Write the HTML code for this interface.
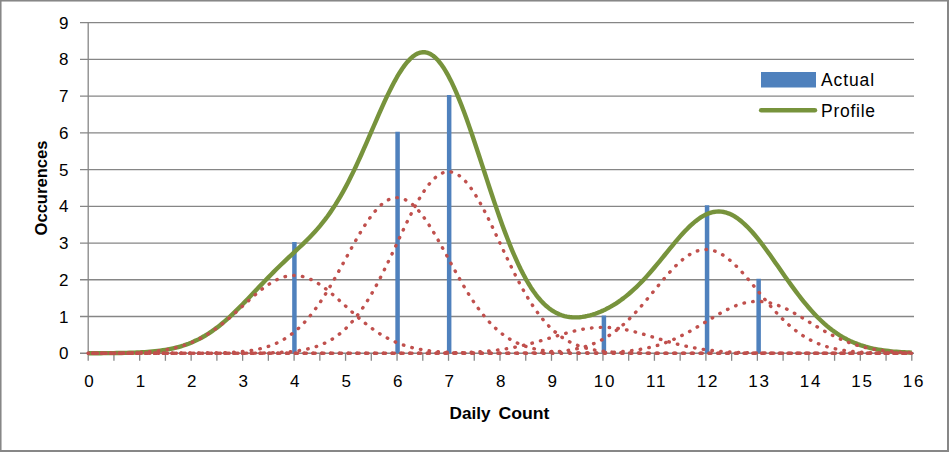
<!DOCTYPE html><html><head><meta charset="utf-8"><style>html,body{margin:0;padding:0;background:#fff}svg{display:block}text{font-family:"Liberation Sans",sans-serif}</style></head><body>
<svg width="949" height="452" viewBox="0 0 949 452">
<rect x="0" y="0" width="949" height="452" fill="#fff"/>
<line x1="80" y1="353.25" x2="914" y2="353.25" stroke="#868686" stroke-width="1.3"/>
<line x1="80" y1="316.51" x2="914" y2="316.51" stroke="#868686" stroke-width="1.3"/>
<line x1="80" y1="279.77" x2="914" y2="279.77" stroke="#868686" stroke-width="1.3"/>
<line x1="80" y1="243.04" x2="914" y2="243.04" stroke="#868686" stroke-width="1.3"/>
<line x1="80" y1="206.30" x2="914" y2="206.30" stroke="#868686" stroke-width="1.3"/>
<line x1="80" y1="169.56" x2="914" y2="169.56" stroke="#868686" stroke-width="1.3"/>
<line x1="80" y1="132.83" x2="914" y2="132.83" stroke="#868686" stroke-width="1.3"/>
<line x1="80" y1="96.09" x2="914" y2="96.09" stroke="#868686" stroke-width="1.3"/>
<line x1="80" y1="59.35" x2="914" y2="59.35" stroke="#868686" stroke-width="1.3"/>
<line x1="80" y1="22.61" x2="914" y2="22.61" stroke="#868686" stroke-width="1.3"/>
<line x1="88.20" y1="22.61" x2="88.20" y2="353.25" stroke="#868686" stroke-width="1.3"/>
<line x1="88.20" y1="353.25" x2="88.20" y2="360.8" stroke="#868686" stroke-width="1.3"/>
<line x1="113.94" y1="353.25" x2="113.94" y2="360.8" stroke="#868686" stroke-width="1.3"/>
<line x1="139.68" y1="353.25" x2="139.68" y2="360.8" stroke="#868686" stroke-width="1.3"/>
<line x1="165.41" y1="353.25" x2="165.41" y2="360.8" stroke="#868686" stroke-width="1.3"/>
<line x1="191.15" y1="353.25" x2="191.15" y2="360.8" stroke="#868686" stroke-width="1.3"/>
<line x1="216.89" y1="353.25" x2="216.89" y2="360.8" stroke="#868686" stroke-width="1.3"/>
<line x1="242.62" y1="353.25" x2="242.62" y2="360.8" stroke="#868686" stroke-width="1.3"/>
<line x1="268.36" y1="353.25" x2="268.36" y2="360.8" stroke="#868686" stroke-width="1.3"/>
<line x1="294.10" y1="353.25" x2="294.10" y2="360.8" stroke="#868686" stroke-width="1.3"/>
<line x1="319.84" y1="353.25" x2="319.84" y2="360.8" stroke="#868686" stroke-width="1.3"/>
<line x1="345.57" y1="353.25" x2="345.57" y2="360.8" stroke="#868686" stroke-width="1.3"/>
<line x1="371.31" y1="353.25" x2="371.31" y2="360.8" stroke="#868686" stroke-width="1.3"/>
<line x1="397.05" y1="353.25" x2="397.05" y2="360.8" stroke="#868686" stroke-width="1.3"/>
<line x1="422.79" y1="353.25" x2="422.79" y2="360.8" stroke="#868686" stroke-width="1.3"/>
<line x1="448.52" y1="353.25" x2="448.52" y2="360.8" stroke="#868686" stroke-width="1.3"/>
<line x1="474.26" y1="353.25" x2="474.26" y2="360.8" stroke="#868686" stroke-width="1.3"/>
<line x1="500.00" y1="353.25" x2="500.00" y2="360.8" stroke="#868686" stroke-width="1.3"/>
<line x1="525.74" y1="353.25" x2="525.74" y2="360.8" stroke="#868686" stroke-width="1.3"/>
<line x1="551.48" y1="353.25" x2="551.48" y2="360.8" stroke="#868686" stroke-width="1.3"/>
<line x1="577.21" y1="353.25" x2="577.21" y2="360.8" stroke="#868686" stroke-width="1.3"/>
<line x1="602.95" y1="353.25" x2="602.95" y2="360.8" stroke="#868686" stroke-width="1.3"/>
<line x1="628.69" y1="353.25" x2="628.69" y2="360.8" stroke="#868686" stroke-width="1.3"/>
<line x1="654.42" y1="353.25" x2="654.42" y2="360.8" stroke="#868686" stroke-width="1.3"/>
<line x1="680.16" y1="353.25" x2="680.16" y2="360.8" stroke="#868686" stroke-width="1.3"/>
<line x1="705.90" y1="353.25" x2="705.90" y2="360.8" stroke="#868686" stroke-width="1.3"/>
<line x1="731.64" y1="353.25" x2="731.64" y2="360.8" stroke="#868686" stroke-width="1.3"/>
<line x1="757.38" y1="353.25" x2="757.38" y2="360.8" stroke="#868686" stroke-width="1.3"/>
<line x1="783.11" y1="353.25" x2="783.11" y2="360.8" stroke="#868686" stroke-width="1.3"/>
<line x1="808.85" y1="353.25" x2="808.85" y2="360.8" stroke="#868686" stroke-width="1.3"/>
<line x1="834.59" y1="353.25" x2="834.59" y2="360.8" stroke="#868686" stroke-width="1.3"/>
<line x1="860.32" y1="353.25" x2="860.32" y2="360.8" stroke="#868686" stroke-width="1.3"/>
<line x1="886.06" y1="353.25" x2="886.06" y2="360.8" stroke="#868686" stroke-width="1.3"/>
<line x1="911.80" y1="353.25" x2="911.80" y2="360.8" stroke="#868686" stroke-width="1.3"/>
<text x="68.5" y="359.25" font-size="17" text-anchor="end" fill="#000">0</text>
<text x="68.5" y="322.51" font-size="17" text-anchor="end" fill="#000">1</text>
<text x="68.5" y="285.77" font-size="17" text-anchor="end" fill="#000">2</text>
<text x="68.5" y="249.04" font-size="17" text-anchor="end" fill="#000">3</text>
<text x="68.5" y="212.30" font-size="17" text-anchor="end" fill="#000">4</text>
<text x="68.5" y="175.56" font-size="17" text-anchor="end" fill="#000">5</text>
<text x="68.5" y="138.83" font-size="17" text-anchor="end" fill="#000">6</text>
<text x="68.5" y="102.09" font-size="17" text-anchor="end" fill="#000">7</text>
<text x="68.5" y="65.35" font-size="17" text-anchor="end" fill="#000">8</text>
<text x="68.5" y="28.61" font-size="17" text-anchor="end" fill="#000">9</text>
<text x="88.90" y="387" font-size="17" text-anchor="middle" letter-spacing="0" fill="#000">0</text>
<text x="140.38" y="387" font-size="17" text-anchor="middle" letter-spacing="0" fill="#000">1</text>
<text x="191.85" y="387" font-size="17" text-anchor="middle" letter-spacing="0" fill="#000">2</text>
<text x="243.32" y="387" font-size="17" text-anchor="middle" letter-spacing="0" fill="#000">3</text>
<text x="294.80" y="387" font-size="17" text-anchor="middle" letter-spacing="0" fill="#000">4</text>
<text x="346.27" y="387" font-size="17" text-anchor="middle" letter-spacing="0" fill="#000">5</text>
<text x="397.75" y="387" font-size="17" text-anchor="middle" letter-spacing="0" fill="#000">6</text>
<text x="449.22" y="387" font-size="17" text-anchor="middle" letter-spacing="0" fill="#000">7</text>
<text x="500.70" y="387" font-size="17" text-anchor="middle" letter-spacing="0" fill="#000">8</text>
<text x="552.18" y="387" font-size="17" text-anchor="middle" letter-spacing="0" fill="#000">9</text>
<text x="605.05" y="387" font-size="17" text-anchor="middle" letter-spacing="1.8" fill="#000">10</text>
<text x="656.52" y="387" font-size="17" text-anchor="middle" letter-spacing="1.8" fill="#000">11</text>
<text x="708.00" y="387" font-size="17" text-anchor="middle" letter-spacing="1.8" fill="#000">12</text>
<text x="759.48" y="387" font-size="17" text-anchor="middle" letter-spacing="1.8" fill="#000">13</text>
<text x="810.95" y="387" font-size="17" text-anchor="middle" letter-spacing="1.8" fill="#000">14</text>
<text x="862.42" y="387" font-size="17" text-anchor="middle" letter-spacing="1.8" fill="#000">15</text>
<text x="913.90" y="387" font-size="17" text-anchor="middle" letter-spacing="1.8" fill="#000">16</text>
<text x="449.5" y="418.5" font-size="17" font-weight="bold" textLength="41" lengthAdjust="spacingAndGlyphs">Daily</text>
<text x="498.5" y="418.5" font-size="17" font-weight="bold" textLength="51" lengthAdjust="spacingAndGlyphs">Count</text>
<text transform="translate(47,188) rotate(-90)" x="0" y="0" font-size="16.6" font-weight="bold" text-anchor="middle">Occurences</text>
<line x1="294.42" y1="242.04" x2="294.42" y2="353.25" stroke="#4F81BD" stroke-width="4.5"/>
<line x1="397.58" y1="131.83" x2="397.58" y2="353.25" stroke="#4F81BD" stroke-width="4.5"/>
<line x1="449.16" y1="95.09" x2="449.16" y2="353.25" stroke="#4F81BD" stroke-width="4.5"/>
<line x1="603.90" y1="315.51" x2="603.90" y2="353.25" stroke="#4F81BD" stroke-width="4.5"/>
<line x1="707.06" y1="205.30" x2="707.06" y2="353.25" stroke="#4F81BD" stroke-width="4.5"/>
<line x1="758.64" y1="278.77" x2="758.64" y2="353.25" stroke="#4F81BD" stroke-width="4.5"/>
<path d="M88.20,353.22 L90.77,353.22 L93.35,353.21 L95.92,353.20 L98.50,353.19 L101.07,353.18 L103.64,353.17 L106.22,353.15 L108.79,353.13 L111.36,353.11 L113.94,353.08 L116.51,353.05 L119.09,353.01 L121.66,352.97 L124.23,352.91 L126.81,352.85 L129.38,352.78 L131.95,352.70 L134.53,352.61 L137.10,352.51 L139.68,352.39 L142.25,352.25 L144.82,352.09 L147.40,351.91 L149.97,351.70 L152.54,351.47 L155.12,351.21 L157.69,350.92 L160.26,350.60 L162.84,350.23 L165.41,349.82 L167.99,349.37 L170.56,348.87 L173.13,348.32 L175.71,347.71 L178.28,347.04 L180.85,346.31 L183.43,345.51 L186.00,344.64 L188.58,343.69 L191.15,342.67 L193.72,341.56 L196.30,340.37 L198.87,339.10 L201.44,337.74 L204.02,336.28 L206.59,334.74 L209.17,333.10 L211.74,331.37 L214.31,329.55 L216.89,327.64 L219.46,325.64 L222.03,323.56 L224.61,321.39 L227.18,319.14 L229.76,316.81 L232.33,314.42 L234.90,311.96 L237.48,309.44 L240.05,306.88 L242.62,304.27 L245.20,301.62 L247.77,298.94 L250.35,296.24 L252.92,293.53 L255.49,290.81 L258.07,288.09 L260.64,285.38 L263.21,282.68 L265.79,280.00 L268.36,277.35 L270.94,274.72 L273.51,272.13 L276.08,269.56 L278.66,267.03 L281.23,264.53 L283.81,262.06 L286.38,259.61 L288.95,257.18 L291.53,254.77 L294.10,252.36 L296.67,249.95 L299.25,247.52 L301.82,245.07 L304.39,242.58 L306.97,240.04 L309.54,237.43 L312.12,234.75 L314.69,231.97 L317.26,229.09 L319.84,226.08 L322.41,222.94 L324.99,219.66 L327.56,216.22 L330.13,212.61 L332.71,208.82 L335.28,204.86 L337.85,200.70 L340.43,196.36 L343.00,191.82 L345.57,187.10 L348.15,182.19 L350.72,177.10 L353.30,171.85 L355.87,166.44 L358.44,160.89 L361.02,155.22 L363.59,149.44 L366.16,143.58 L368.74,137.66 L371.31,131.71 L373.89,125.75 L376.46,119.82 L379.03,113.94 L381.61,108.14 L384.18,102.46 L386.75,96.94 L389.33,91.59 L391.90,86.46 L394.48,81.58 L397.05,76.97 L399.62,72.68 L402.20,68.72 L404.77,65.13 L407.34,61.94 L409.92,59.16 L412.49,56.82 L415.07,54.94 L417.64,53.54 L420.21,52.63 L422.79,52.22 L425.36,52.32 L427.94,52.94 L430.51,54.08 L433.08,55.73 L435.66,57.91 L438.23,60.59 L440.80,63.77 L443.38,67.43 L445.95,71.57 L448.52,76.15 L451.10,81.17 L453.67,86.59 L456.25,92.40 L458.82,98.56 L461.39,105.04 L463.97,111.82 L466.54,118.86 L469.11,126.12 L471.69,133.58 L474.26,141.19 L476.84,148.93 L479.41,156.75 L481.98,164.63 L484.56,172.52 L487.13,180.40 L489.70,188.24 L492.28,195.99 L494.85,203.64 L497.43,211.15 L500.00,218.50 L502.57,225.66 L505.15,232.61 L507.72,239.34 L510.30,245.82 L512.87,252.04 L515.44,257.98 L518.02,263.63 L520.59,269.00 L523.16,274.06 L525.74,278.82 L528.31,283.27 L530.88,287.41 L533.46,291.25 L536.03,294.79 L538.61,298.03 L541.18,300.98 L543.75,303.65 L546.33,306.04 L548.90,308.17 L551.48,310.05 L554.05,311.68 L556.62,313.09 L559.20,314.27 L561.77,315.25 L564.34,316.03 L566.92,316.62 L569.49,317.04 L572.06,317.30 L574.64,317.41 L577.21,317.37 L579.79,317.20 L582.36,316.90 L584.93,316.49 L587.51,315.96 L590.08,315.32 L592.65,314.58 L595.23,313.73 L597.80,312.79 L600.38,311.76 L602.95,310.63 L605.52,309.40 L608.10,308.08 L610.67,306.67 L613.25,305.16 L615.82,303.55 L618.39,301.84 L620.97,300.03 L623.54,298.13 L626.11,296.11 L628.69,294.00 L631.26,291.78 L633.84,289.45 L636.41,287.03 L638.98,284.51 L641.56,281.88 L644.13,279.17 L646.70,276.37 L649.28,273.49 L651.85,270.53 L654.42,267.51 L657.00,264.44 L659.57,261.32 L662.15,258.17 L664.72,255.00 L667.29,251.82 L669.87,248.66 L672.44,245.52 L675.01,242.43 L677.59,239.39 L680.16,236.43 L682.74,233.56 L685.31,230.80 L687.88,228.16 L690.46,225.67 L693.03,223.33 L695.61,221.17 L698.18,219.20 L700.75,217.43 L703.33,215.87 L705.90,214.53 L708.47,213.43 L711.05,212.56 L713.62,211.95 L716.20,211.58 L718.77,211.48 L721.34,211.63 L723.92,212.03 L726.49,212.70 L729.06,213.61 L731.64,214.78 L734.21,216.18 L736.79,217.83 L739.36,219.69 L741.93,221.78 L744.51,224.07 L747.08,226.55 L749.65,229.22 L752.23,232.05 L754.80,235.04 L757.38,238.16 L759.95,241.41 L762.52,244.77 L765.10,248.22 L767.67,251.75 L770.24,255.34 L772.82,258.98 L775.39,262.66 L777.97,266.35 L780.54,270.04 L783.11,273.73 L785.69,277.40 L788.26,281.04 L790.83,284.63 L793.41,288.16 L795.98,291.63 L798.55,295.03 L801.13,298.35 L803.70,301.58 L806.28,304.71 L808.85,307.74 L811.42,310.66 L814.00,313.48 L816.57,316.18 L819.14,318.77 L821.72,321.24 L824.29,323.60 L826.87,325.84 L829.44,327.96 L832.01,329.96 L834.59,331.85 L837.16,333.63 L839.74,335.29 L842.31,336.85 L844.88,338.31 L847.46,339.67 L850.03,340.93 L852.60,342.09 L855.18,343.17 L857.75,344.16 L860.32,345.08 L862.90,345.91 L865.47,346.68 L868.05,347.38 L870.62,348.02 L873.19,348.60 L875.77,349.12 L878.34,349.59 L880.91,350.02 L883.49,350.40 L886.06,350.74 L888.64,351.05 L891.21,351.32 L893.78,351.57 L896.36,351.78 L898.93,351.98 L901.50,352.14 L904.08,352.29 L906.65,352.42 L909.23,352.54 L911.80,352.64" fill="none" stroke="#77933C" stroke-width="4.4" stroke-linejoin="round"/>
<path d="M88.20,353.22 L90.77,353.22 L93.35,353.21 L95.92,353.20 L98.50,353.19 L101.07,353.18 L103.64,353.17 L106.22,353.15 L108.79,353.13 L111.36,353.11 L113.94,353.08 L116.51,353.05 L119.09,353.01 L121.66,352.97 L124.23,352.91 L126.81,352.85 L129.38,352.79 L131.95,352.71 L134.53,352.61 L137.10,352.51 L139.68,352.39 L142.25,352.25 L144.82,352.09 L147.40,351.91 L149.97,351.71 L152.54,351.48 L155.12,351.22 L157.69,350.93 L160.26,350.60 L162.84,350.24 L165.41,349.83 L167.99,349.38 L170.56,348.88 L173.13,348.33 L175.71,347.73 L178.28,347.06 L180.85,346.33 L183.43,345.54 L186.00,344.67 L188.58,343.73 L191.15,342.72 L193.72,341.63 L196.30,340.45 L198.87,339.19 L201.44,337.85 L204.02,336.42 L206.59,334.91 L209.17,333.30 L211.74,331.62 L214.31,329.84 L216.89,327.99 L219.46,326.06 L222.03,324.05 L224.61,321.97 L227.18,319.83 L229.76,317.63 L232.33,315.38 L234.90,313.08 L237.48,310.76 L240.05,308.41 L242.62,306.06 L245.20,303.70 L247.77,301.35 L250.35,299.03 L252.92,296.75 L255.49,294.52 L258.07,292.35 L260.64,290.26 L263.21,288.26 L265.79,286.36 L268.36,284.58 L270.94,282.93 L273.51,281.42 L276.08,280.06 L278.66,278.86 L281.23,277.83 L283.81,276.98 L286.38,276.31 L288.95,275.83 L291.53,275.54 L294.10,275.44 L296.67,275.54 L299.25,275.83 L301.82,276.31 L304.39,276.98 L306.97,277.83 L309.54,278.86 L312.12,280.06 L314.69,281.42 L317.26,282.93 L319.84,284.58 L322.41,286.36 L324.99,288.26 L327.56,290.26 L330.13,292.35 L332.71,294.52 L335.28,296.75 L337.85,299.03 L340.43,301.35 L343.00,303.70 L345.57,306.06 L348.15,308.41 L350.72,310.76 L353.30,313.08 L355.87,315.38 L358.44,317.63 L361.02,319.83 L363.59,321.97 L366.16,324.05 L368.74,326.06 L371.31,327.99 L373.89,329.84 L376.46,331.62 L379.03,333.30 L381.61,334.91 L384.18,336.42 L386.75,337.85 L389.33,339.19 L391.90,340.45 L394.48,341.63 L397.05,342.72 L399.62,343.73 L402.20,344.67 L404.77,345.54 L407.34,346.33 L409.92,347.06 L412.49,347.73 L415.07,348.33 L417.64,348.88 L420.21,349.38 L422.79,349.83 L425.36,350.24 L427.94,350.60 L430.51,350.93 L433.08,351.22 L435.66,351.48 L438.23,351.71 L440.80,351.91 L443.38,352.09 L445.95,352.25 L448.52,352.39 L451.10,352.51 L453.67,352.61 L456.25,352.71 L458.82,352.79 L461.39,352.85 L463.97,352.91 L466.54,352.97 L469.11,353.01 L471.69,353.05 L474.26,353.08 L476.84,353.11 L479.41,353.13 L481.98,353.15 L484.56,353.17 L487.13,353.18 L489.70,353.19 L492.28,353.20 L494.85,353.21 L497.43,353.22 L500.00,353.22 L502.57,353.23 L505.15,353.23 L507.72,353.24 L510.30,353.24 L512.87,353.24 L515.44,353.24 L518.02,353.24 L520.59,353.25 L523.16,353.25 L525.74,353.25 L528.31,353.25 L530.88,353.25 L533.46,353.25 L536.03,353.25 L538.61,353.25 L541.18,353.25 L543.75,353.25 L546.33,353.25 L548.90,353.25 L551.48,353.25 L554.05,353.25 L556.62,353.25 L559.20,353.25 L561.77,353.25 L564.34,353.25 L566.92,353.25 L569.49,353.25 L572.06,353.25 L574.64,353.25 L577.21,353.25 L579.79,353.25 L582.36,353.25 L584.93,353.25 L587.51,353.25 L590.08,353.25 L592.65,353.25 L595.23,353.25 L597.80,353.25 L600.38,353.25 L602.95,353.25 L605.52,353.25 L608.10,353.25 L610.67,353.25 L613.25,353.25 L615.82,353.25 L618.39,353.25 L620.97,353.25 L623.54,353.25 L626.11,353.25 L628.69,353.25 L631.26,353.25 L633.84,353.25 L636.41,353.25 L638.98,353.25 L641.56,353.25 L644.13,353.25 L646.70,353.25 L649.28,353.25 L651.85,353.25 L654.42,353.25 L657.00,353.25 L659.57,353.25 L662.15,353.25 L664.72,353.25 L667.29,353.25 L669.87,353.25 L672.44,353.25 L675.01,353.25 L677.59,353.25 L680.16,353.25 L682.74,353.25 L685.31,353.25 L687.88,353.25 L690.46,353.25 L693.03,353.25 L695.61,353.25 L698.18,353.25 L700.75,353.25 L703.33,353.25 L705.90,353.25 L708.47,353.25 L711.05,353.25 L713.62,353.25 L716.20,353.25 L718.77,353.25 L721.34,353.25 L723.92,353.25 L726.49,353.25 L729.06,353.25 L731.64,353.25 L734.21,353.25 L736.79,353.25 L739.36,353.25 L741.93,353.25 L744.51,353.25 L747.08,353.25 L749.65,353.25 L752.23,353.25 L754.80,353.25 L757.38,353.25 L759.95,353.25 L762.52,353.25 L765.10,353.25 L767.67,353.25 L770.24,353.25 L772.82,353.25 L775.39,353.25 L777.97,353.25 L780.54,353.25 L783.11,353.25 L785.69,353.25 L788.26,353.25 L790.83,353.25 L793.41,353.25 L795.98,353.25 L798.55,353.25 L801.13,353.25 L803.70,353.25 L806.28,353.25 L808.85,353.25 L811.42,353.25 L814.00,353.25 L816.57,353.25 L819.14,353.25 L821.72,353.25 L824.29,353.25 L826.87,353.25 L829.44,353.25 L832.01,353.25 L834.59,353.25 L837.16,353.25 L839.74,353.25 L842.31,353.25 L844.88,353.25 L847.46,353.25 L850.03,353.25 L852.60,353.25 L855.18,353.25 L857.75,353.25 L860.32,353.25 L862.90,353.25 L865.47,353.25 L868.05,353.25 L870.62,353.25 L873.19,353.25 L875.77,353.25 L878.34,353.25 L880.91,353.25 L883.49,353.25 L886.06,353.25 L888.64,353.25 L891.21,353.25 L893.78,353.25 L896.36,353.25 L898.93,353.25 L901.50,353.25 L904.08,353.25 L906.65,353.25 L909.23,353.25 L911.80,353.25" fill="none" stroke="#C0504D" stroke-width="3.4" stroke-linecap="round" stroke-dasharray="0.5 8.30" stroke-dashoffset="0.25"/>
<path d="M88.20,353.25 L90.77,353.25 L93.35,353.25 L95.92,353.25 L98.50,353.25 L101.07,353.25 L103.64,353.25 L106.22,353.25 L108.79,353.25 L111.36,353.25 L113.94,353.25 L116.51,353.25 L119.09,353.25 L121.66,353.25 L124.23,353.25 L126.81,353.25 L129.38,353.25 L131.95,353.25 L134.53,353.25 L137.10,353.25 L139.68,353.25 L142.25,353.25 L144.82,353.25 L147.40,353.25 L149.97,353.25 L152.54,353.25 L155.12,353.25 L157.69,353.25 L160.26,353.25 L162.84,353.25 L165.41,353.24 L167.99,353.24 L170.56,353.24 L173.13,353.24 L175.71,353.23 L178.28,353.23 L180.85,353.23 L183.43,353.22 L186.00,353.22 L188.58,353.21 L191.15,353.20 L193.72,353.19 L196.30,353.17 L198.87,353.16 L201.44,353.14 L204.02,353.11 L206.59,353.08 L209.17,353.05 L211.74,353.01 L214.31,352.96 L216.89,352.91 L219.46,352.84 L222.03,352.77 L224.61,352.68 L227.18,352.58 L229.76,352.46 L232.33,352.32 L234.90,352.16 L237.48,351.98 L240.05,351.76 L242.62,351.52 L245.20,351.24 L247.77,350.93 L250.35,350.57 L252.92,350.16 L255.49,349.70 L258.07,349.18 L260.64,348.60 L263.21,347.95 L265.79,347.22 L268.36,346.41 L270.94,345.51 L273.51,344.51 L276.08,343.41 L278.66,342.20 L281.23,340.87 L283.81,339.41 L286.38,337.82 L288.95,336.09 L291.53,334.22 L294.10,332.19 L296.67,330.00 L299.25,327.65 L301.82,325.14 L304.39,322.45 L306.97,319.59 L309.54,316.56 L312.12,313.36 L314.69,309.98 L317.26,306.44 L319.84,302.73 L322.41,298.86 L324.99,294.84 L327.56,290.69 L330.13,286.40 L332.71,282.00 L335.28,277.50 L337.85,272.92 L340.43,268.27 L343.00,263.58 L345.57,258.86 L348.15,254.15 L350.72,249.46 L353.30,244.81 L355.87,240.25 L358.44,235.78 L361.02,231.45 L363.59,227.26 L366.16,223.27 L368.74,219.47 L371.31,215.92 L373.89,212.62 L376.46,209.59 L379.03,206.88 L381.61,204.48 L384.18,202.42 L386.75,200.71 L389.33,199.37 L391.90,198.41 L394.48,197.82 L397.05,197.63 L399.62,197.82 L402.20,198.41 L404.77,199.37 L407.34,200.71 L409.92,202.42 L412.49,204.48 L415.07,206.88 L417.64,209.59 L420.21,212.62 L422.79,215.92 L425.36,219.47 L427.94,223.27 L430.51,227.26 L433.08,231.45 L435.66,235.78 L438.23,240.25 L440.80,244.81 L443.38,249.46 L445.95,254.15 L448.52,258.86 L451.10,263.58 L453.67,268.27 L456.25,272.92 L458.82,277.50 L461.39,282.00 L463.97,286.40 L466.54,290.69 L469.11,294.84 L471.69,298.86 L474.26,302.73 L476.84,306.44 L479.41,309.98 L481.98,313.36 L484.56,316.56 L487.13,319.59 L489.70,322.45 L492.28,325.14 L494.85,327.65 L497.43,330.00 L500.00,332.19 L502.57,334.22 L505.15,336.09 L507.72,337.82 L510.30,339.41 L512.87,340.87 L515.44,342.20 L518.02,343.41 L520.59,344.51 L523.16,345.51 L525.74,346.41 L528.31,347.22 L530.88,347.95 L533.46,348.60 L536.03,349.18 L538.61,349.70 L541.18,350.16 L543.75,350.57 L546.33,350.93 L548.90,351.24 L551.48,351.52 L554.05,351.76 L556.62,351.98 L559.20,352.16 L561.77,352.32 L564.34,352.46 L566.92,352.58 L569.49,352.68 L572.06,352.77 L574.64,352.84 L577.21,352.91 L579.79,352.96 L582.36,353.01 L584.93,353.05 L587.51,353.08 L590.08,353.11 L592.65,353.14 L595.23,353.16 L597.80,353.17 L600.38,353.19 L602.95,353.20 L605.52,353.21 L608.10,353.22 L610.67,353.22 L613.25,353.23 L615.82,353.23 L618.39,353.23 L620.97,353.24 L623.54,353.24 L626.11,353.24 L628.69,353.24 L631.26,353.25 L633.84,353.25 L636.41,353.25 L638.98,353.25 L641.56,353.25 L644.13,353.25 L646.70,353.25 L649.28,353.25 L651.85,353.25 L654.42,353.25 L657.00,353.25 L659.57,353.25 L662.15,353.25 L664.72,353.25 L667.29,353.25 L669.87,353.25 L672.44,353.25 L675.01,353.25 L677.59,353.25 L680.16,353.25 L682.74,353.25 L685.31,353.25 L687.88,353.25 L690.46,353.25 L693.03,353.25 L695.61,353.25 L698.18,353.25 L700.75,353.25 L703.33,353.25 L705.90,353.25 L708.47,353.25 L711.05,353.25 L713.62,353.25 L716.20,353.25 L718.77,353.25 L721.34,353.25 L723.92,353.25 L726.49,353.25 L729.06,353.25 L731.64,353.25 L734.21,353.25 L736.79,353.25 L739.36,353.25 L741.93,353.25 L744.51,353.25 L747.08,353.25 L749.65,353.25 L752.23,353.25 L754.80,353.25 L757.38,353.25 L759.95,353.25 L762.52,353.25 L765.10,353.25 L767.67,353.25 L770.24,353.25 L772.82,353.25 L775.39,353.25 L777.97,353.25 L780.54,353.25 L783.11,353.25 L785.69,353.25 L788.26,353.25 L790.83,353.25 L793.41,353.25 L795.98,353.25 L798.55,353.25 L801.13,353.25 L803.70,353.25 L806.28,353.25 L808.85,353.25 L811.42,353.25 L814.00,353.25 L816.57,353.25 L819.14,353.25 L821.72,353.25 L824.29,353.25 L826.87,353.25 L829.44,353.25 L832.01,353.25 L834.59,353.25 L837.16,353.25 L839.74,353.25 L842.31,353.25 L844.88,353.25 L847.46,353.25 L850.03,353.25 L852.60,353.25 L855.18,353.25 L857.75,353.25 L860.32,353.25 L862.90,353.25 L865.47,353.25 L868.05,353.25 L870.62,353.25 L873.19,353.25 L875.77,353.25 L878.34,353.25 L880.91,353.25 L883.49,353.25 L886.06,353.25 L888.64,353.25 L891.21,353.25 L893.78,353.25 L896.36,353.25 L898.93,353.25 L901.50,353.25 L904.08,353.25 L906.65,353.25 L909.23,353.25 L911.80,353.25" fill="none" stroke="#C0504D" stroke-width="3.4" stroke-linecap="round" stroke-dasharray="0.5 8.30" stroke-dashoffset="4.15"/>
<path d="M88.20,353.25 L90.77,353.25 L93.35,353.25 L95.92,353.25 L98.50,353.25 L101.07,353.25 L103.64,353.25 L106.22,353.25 L108.79,353.25 L111.36,353.25 L113.94,353.25 L116.51,353.25 L119.09,353.25 L121.66,353.25 L124.23,353.25 L126.81,353.25 L129.38,353.25 L131.95,353.25 L134.53,353.25 L137.10,353.25 L139.68,353.25 L142.25,353.25 L144.82,353.25 L147.40,353.25 L149.97,353.25 L152.54,353.25 L155.12,353.25 L157.69,353.25 L160.26,353.25 L162.84,353.25 L165.41,353.25 L167.99,353.25 L170.56,353.25 L173.13,353.25 L175.71,353.25 L178.28,353.25 L180.85,353.25 L183.43,353.25 L186.00,353.25 L188.58,353.25 L191.15,353.25 L193.72,353.25 L196.30,353.25 L198.87,353.25 L201.44,353.25 L204.02,353.25 L206.59,353.25 L209.17,353.25 L211.74,353.25 L214.31,353.24 L216.89,353.24 L219.46,353.24 L222.03,353.24 L224.61,353.24 L227.18,353.23 L229.76,353.23 L232.33,353.22 L234.90,353.22 L237.48,353.21 L240.05,353.20 L242.62,353.19 L245.20,353.18 L247.77,353.16 L250.35,353.14 L252.92,353.12 L255.49,353.09 L258.07,353.06 L260.64,353.02 L263.21,352.97 L265.79,352.92 L268.36,352.85 L270.94,352.78 L273.51,352.69 L276.08,352.59 L278.66,352.47 L281.23,352.33 L283.81,352.17 L286.38,351.98 L288.95,351.76 L291.53,351.52 L294.10,351.23 L296.67,350.91 L299.25,350.54 L301.82,350.12 L304.39,349.65 L306.97,349.11 L309.54,348.51 L312.12,347.83 L314.69,347.07 L317.26,346.22 L319.84,345.27 L322.41,344.22 L324.99,343.06 L327.56,341.77 L330.13,340.36 L332.71,338.81 L335.28,337.11 L337.85,335.25 L340.43,333.23 L343.00,331.04 L345.57,328.68 L348.15,326.13 L350.72,323.39 L353.30,320.45 L355.87,317.32 L358.44,313.99 L361.02,310.45 L363.59,306.71 L366.16,302.77 L368.74,298.63 L371.31,294.31 L373.89,289.80 L376.46,285.11 L379.03,280.26 L381.61,275.26 L384.18,270.13 L386.75,264.88 L389.33,259.53 L391.90,254.11 L394.48,248.63 L397.05,243.13 L399.62,237.63 L402.20,232.16 L404.77,226.74 L407.34,221.41 L409.92,216.20 L412.49,211.14 L415.07,206.27 L417.64,201.60 L420.21,197.18 L422.79,193.03 L425.36,189.18 L427.94,185.65 L430.51,182.48 L433.08,179.68 L435.66,177.28 L438.23,175.29 L440.80,173.72 L443.38,172.60 L445.95,171.92 L448.52,171.69 L451.10,171.92 L453.67,172.60 L456.25,173.72 L458.82,175.29 L461.39,177.28 L463.97,179.68 L466.54,182.48 L469.11,185.65 L471.69,189.18 L474.26,193.03 L476.84,197.18 L479.41,201.60 L481.98,206.27 L484.56,211.14 L487.13,216.20 L489.70,221.41 L492.28,226.74 L494.85,232.16 L497.43,237.63 L500.00,243.13 L502.57,248.63 L505.15,254.11 L507.72,259.53 L510.30,264.88 L512.87,270.13 L515.44,275.26 L518.02,280.26 L520.59,285.11 L523.16,289.80 L525.74,294.31 L528.31,298.63 L530.88,302.77 L533.46,306.71 L536.03,310.45 L538.61,313.99 L541.18,317.32 L543.75,320.45 L546.33,323.39 L548.90,326.13 L551.48,328.68 L554.05,331.04 L556.62,333.23 L559.20,335.25 L561.77,337.11 L564.34,338.81 L566.92,340.36 L569.49,341.77 L572.06,343.06 L574.64,344.22 L577.21,345.27 L579.79,346.22 L582.36,347.07 L584.93,347.83 L587.51,348.51 L590.08,349.11 L592.65,349.65 L595.23,350.12 L597.80,350.54 L600.38,350.91 L602.95,351.23 L605.52,351.52 L608.10,351.76 L610.67,351.98 L613.25,352.17 L615.82,352.33 L618.39,352.47 L620.97,352.59 L623.54,352.69 L626.11,352.78 L628.69,352.85 L631.26,352.92 L633.84,352.97 L636.41,353.02 L638.98,353.06 L641.56,353.09 L644.13,353.12 L646.70,353.14 L649.28,353.16 L651.85,353.18 L654.42,353.19 L657.00,353.20 L659.57,353.21 L662.15,353.22 L664.72,353.22 L667.29,353.23 L669.87,353.23 L672.44,353.24 L675.01,353.24 L677.59,353.24 L680.16,353.24 L682.74,353.24 L685.31,353.25 L687.88,353.25 L690.46,353.25 L693.03,353.25 L695.61,353.25 L698.18,353.25 L700.75,353.25 L703.33,353.25 L705.90,353.25 L708.47,353.25 L711.05,353.25 L713.62,353.25 L716.20,353.25 L718.77,353.25 L721.34,353.25 L723.92,353.25 L726.49,353.25 L729.06,353.25 L731.64,353.25 L734.21,353.25 L736.79,353.25 L739.36,353.25 L741.93,353.25 L744.51,353.25 L747.08,353.25 L749.65,353.25 L752.23,353.25 L754.80,353.25 L757.38,353.25 L759.95,353.25 L762.52,353.25 L765.10,353.25 L767.67,353.25 L770.24,353.25 L772.82,353.25 L775.39,353.25 L777.97,353.25 L780.54,353.25 L783.11,353.25 L785.69,353.25 L788.26,353.25 L790.83,353.25 L793.41,353.25 L795.98,353.25 L798.55,353.25 L801.13,353.25 L803.70,353.25 L806.28,353.25 L808.85,353.25 L811.42,353.25 L814.00,353.25 L816.57,353.25 L819.14,353.25 L821.72,353.25 L824.29,353.25 L826.87,353.25 L829.44,353.25 L832.01,353.25 L834.59,353.25 L837.16,353.25 L839.74,353.25 L842.31,353.25 L844.88,353.25 L847.46,353.25 L850.03,353.25 L852.60,353.25 L855.18,353.25 L857.75,353.25 L860.32,353.25 L862.90,353.25 L865.47,353.25 L868.05,353.25 L870.62,353.25 L873.19,353.25 L875.77,353.25 L878.34,353.25 L880.91,353.25 L883.49,353.25 L886.06,353.25 L888.64,353.25 L891.21,353.25 L893.78,353.25 L896.36,353.25 L898.93,353.25 L901.50,353.25 L904.08,353.25 L906.65,353.25 L909.23,353.25 L911.80,353.25" fill="none" stroke="#C0504D" stroke-width="3.4" stroke-linecap="round" stroke-dasharray="0.5 8.30" stroke-dashoffset="0.25"/>
<path d="M88.20,353.25 L90.77,353.25 L93.35,353.25 L95.92,353.25 L98.50,353.25 L101.07,353.25 L103.64,353.25 L106.22,353.25 L108.79,353.25 L111.36,353.25 L113.94,353.25 L116.51,353.25 L119.09,353.25 L121.66,353.25 L124.23,353.25 L126.81,353.25 L129.38,353.25 L131.95,353.25 L134.53,353.25 L137.10,353.25 L139.68,353.25 L142.25,353.25 L144.82,353.25 L147.40,353.25 L149.97,353.25 L152.54,353.25 L155.12,353.25 L157.69,353.25 L160.26,353.25 L162.84,353.25 L165.41,353.25 L167.99,353.25 L170.56,353.25 L173.13,353.25 L175.71,353.25 L178.28,353.25 L180.85,353.25 L183.43,353.25 L186.00,353.25 L188.58,353.25 L191.15,353.25 L193.72,353.25 L196.30,353.25 L198.87,353.25 L201.44,353.25 L204.02,353.25 L206.59,353.25 L209.17,353.25 L211.74,353.25 L214.31,353.25 L216.89,353.25 L219.46,353.25 L222.03,353.25 L224.61,353.25 L227.18,353.25 L229.76,353.25 L232.33,353.25 L234.90,353.25 L237.48,353.25 L240.05,353.25 L242.62,353.25 L245.20,353.25 L247.77,353.25 L250.35,353.25 L252.92,353.25 L255.49,353.25 L258.07,353.25 L260.64,353.25 L263.21,353.25 L265.79,353.25 L268.36,353.25 L270.94,353.25 L273.51,353.25 L276.08,353.25 L278.66,353.25 L281.23,353.25 L283.81,353.25 L286.38,353.25 L288.95,353.25 L291.53,353.25 L294.10,353.25 L296.67,353.25 L299.25,353.25 L301.82,353.25 L304.39,353.25 L306.97,353.25 L309.54,353.25 L312.12,353.25 L314.69,353.25 L317.26,353.25 L319.84,353.25 L322.41,353.25 L324.99,353.25 L327.56,353.25 L330.13,353.25 L332.71,353.25 L335.28,353.25 L337.85,353.25 L340.43,353.25 L343.00,353.25 L345.57,353.25 L348.15,353.25 L350.72,353.25 L353.30,353.25 L355.87,353.25 L358.44,353.25 L361.02,353.25 L363.59,353.25 L366.16,353.25 L368.74,353.25 L371.31,353.25 L373.89,353.25 L376.46,353.25 L379.03,353.25 L381.61,353.25 L384.18,353.25 L386.75,353.25 L389.33,353.25 L391.90,353.24 L394.48,353.24 L397.05,353.24 L399.62,353.24 L402.20,353.24 L404.77,353.23 L407.34,353.23 L409.92,353.23 L412.49,353.22 L415.07,353.22 L417.64,353.21 L420.21,353.20 L422.79,353.19 L425.36,353.18 L427.94,353.17 L430.51,353.16 L433.08,353.14 L435.66,353.12 L438.23,353.10 L440.80,353.07 L443.38,353.04 L445.95,353.00 L448.52,352.96 L451.10,352.92 L453.67,352.86 L456.25,352.80 L458.82,352.74 L461.39,352.66 L463.97,352.57 L466.54,352.48 L469.11,352.37 L471.69,352.25 L474.26,352.11 L476.84,351.96 L479.41,351.79 L481.98,351.61 L484.56,351.41 L487.13,351.19 L489.70,350.94 L492.28,350.68 L494.85,350.39 L497.43,350.08 L500.00,349.74 L502.57,349.38 L505.15,348.98 L507.72,348.56 L510.30,348.12 L512.87,347.64 L515.44,347.14 L518.02,346.60 L520.59,346.04 L523.16,345.45 L525.74,344.83 L528.31,344.19 L530.88,343.52 L533.46,342.82 L536.03,342.11 L538.61,341.38 L541.18,340.63 L543.75,339.86 L546.33,339.09 L548.90,338.30 L551.48,337.52 L554.05,336.73 L556.62,335.95 L559.20,335.18 L561.77,334.42 L564.34,333.67 L566.92,332.95 L569.49,332.25 L572.06,331.59 L574.64,330.95 L577.21,330.36 L579.79,329.81 L582.36,329.31 L584.93,328.85 L587.51,328.45 L590.08,328.11 L592.65,327.83 L595.23,327.60 L597.80,327.44 L600.38,327.35 L602.95,327.31 L605.52,327.35 L608.10,327.44 L610.67,327.60 L613.25,327.83 L615.82,328.11 L618.39,328.45 L620.97,328.85 L623.54,329.31 L626.11,329.81 L628.69,330.36 L631.26,330.95 L633.84,331.59 L636.41,332.25 L638.98,332.95 L641.56,333.67 L644.13,334.42 L646.70,335.18 L649.28,335.95 L651.85,336.73 L654.42,337.52 L657.00,338.30 L659.57,339.09 L662.15,339.86 L664.72,340.63 L667.29,341.38 L669.87,342.11 L672.44,342.82 L675.01,343.52 L677.59,344.19 L680.16,344.83 L682.74,345.45 L685.31,346.04 L687.88,346.60 L690.46,347.14 L693.03,347.64 L695.61,348.12 L698.18,348.56 L700.75,348.98 L703.33,349.38 L705.90,349.74 L708.47,350.08 L711.05,350.39 L713.62,350.68 L716.20,350.94 L718.77,351.19 L721.34,351.41 L723.92,351.61 L726.49,351.79 L729.06,351.96 L731.64,352.11 L734.21,352.25 L736.79,352.37 L739.36,352.48 L741.93,352.57 L744.51,352.66 L747.08,352.74 L749.65,352.80 L752.23,352.86 L754.80,352.92 L757.38,352.96 L759.95,353.00 L762.52,353.04 L765.10,353.07 L767.67,353.10 L770.24,353.12 L772.82,353.14 L775.39,353.16 L777.97,353.17 L780.54,353.18 L783.11,353.19 L785.69,353.20 L788.26,353.21 L790.83,353.22 L793.41,353.22 L795.98,353.23 L798.55,353.23 L801.13,353.23 L803.70,353.24 L806.28,353.24 L808.85,353.24 L811.42,353.24 L814.00,353.24 L816.57,353.25 L819.14,353.25 L821.72,353.25 L824.29,353.25 L826.87,353.25 L829.44,353.25 L832.01,353.25 L834.59,353.25 L837.16,353.25 L839.74,353.25 L842.31,353.25 L844.88,353.25 L847.46,353.25 L850.03,353.25 L852.60,353.25 L855.18,353.25 L857.75,353.25 L860.32,353.25 L862.90,353.25 L865.47,353.25 L868.05,353.25 L870.62,353.25 L873.19,353.25 L875.77,353.25 L878.34,353.25 L880.91,353.25 L883.49,353.25 L886.06,353.25 L888.64,353.25 L891.21,353.25 L893.78,353.25 L896.36,353.25 L898.93,353.25 L901.50,353.25 L904.08,353.25 L906.65,353.25 L909.23,353.25 L911.80,353.25" fill="none" stroke="#C0504D" stroke-width="3.4" stroke-linecap="round" stroke-dasharray="0.5 8.30" stroke-dashoffset="4.25"/>
<path d="M88.20,353.25 L90.77,353.25 L93.35,353.25 L95.92,353.25 L98.50,353.25 L101.07,353.25 L103.64,353.25 L106.22,353.25 L108.79,353.25 L111.36,353.25 L113.94,353.25 L116.51,353.25 L119.09,353.25 L121.66,353.25 L124.23,353.25 L126.81,353.25 L129.38,353.25 L131.95,353.25 L134.53,353.25 L137.10,353.25 L139.68,353.25 L142.25,353.25 L144.82,353.25 L147.40,353.25 L149.97,353.25 L152.54,353.25 L155.12,353.25 L157.69,353.25 L160.26,353.25 L162.84,353.25 L165.41,353.25 L167.99,353.25 L170.56,353.25 L173.13,353.25 L175.71,353.25 L178.28,353.25 L180.85,353.25 L183.43,353.25 L186.00,353.25 L188.58,353.25 L191.15,353.25 L193.72,353.25 L196.30,353.25 L198.87,353.25 L201.44,353.25 L204.02,353.25 L206.59,353.25 L209.17,353.25 L211.74,353.25 L214.31,353.25 L216.89,353.25 L219.46,353.25 L222.03,353.25 L224.61,353.25 L227.18,353.25 L229.76,353.25 L232.33,353.25 L234.90,353.25 L237.48,353.25 L240.05,353.25 L242.62,353.25 L245.20,353.25 L247.77,353.25 L250.35,353.25 L252.92,353.25 L255.49,353.25 L258.07,353.25 L260.64,353.25 L263.21,353.25 L265.79,353.25 L268.36,353.25 L270.94,353.25 L273.51,353.25 L276.08,353.25 L278.66,353.25 L281.23,353.25 L283.81,353.25 L286.38,353.25 L288.95,353.25 L291.53,353.25 L294.10,353.25 L296.67,353.25 L299.25,353.25 L301.82,353.25 L304.39,353.25 L306.97,353.25 L309.54,353.25 L312.12,353.25 L314.69,353.25 L317.26,353.25 L319.84,353.25 L322.41,353.25 L324.99,353.25 L327.56,353.25 L330.13,353.25 L332.71,353.25 L335.28,353.25 L337.85,353.25 L340.43,353.25 L343.00,353.25 L345.57,353.25 L348.15,353.25 L350.72,353.25 L353.30,353.25 L355.87,353.25 L358.44,353.25 L361.02,353.25 L363.59,353.25 L366.16,353.25 L368.74,353.25 L371.31,353.25 L373.89,353.25 L376.46,353.25 L379.03,353.25 L381.61,353.25 L384.18,353.25 L386.75,353.25 L389.33,353.25 L391.90,353.25 L394.48,353.25 L397.05,353.25 L399.62,353.25 L402.20,353.25 L404.77,353.25 L407.34,353.25 L409.92,353.25 L412.49,353.25 L415.07,353.25 L417.64,353.25 L420.21,353.25 L422.79,353.25 L425.36,353.25 L427.94,353.25 L430.51,353.25 L433.08,353.25 L435.66,353.25 L438.23,353.25 L440.80,353.25 L443.38,353.25 L445.95,353.25 L448.52,353.25 L451.10,353.25 L453.67,353.25 L456.25,353.25 L458.82,353.25 L461.39,353.25 L463.97,353.25 L466.54,353.25 L469.11,353.25 L471.69,353.25 L474.26,353.25 L476.84,353.24 L479.41,353.24 L481.98,353.24 L484.56,353.24 L487.13,353.24 L489.70,353.23 L492.28,353.23 L494.85,353.23 L497.43,353.22 L500.00,353.22 L502.57,353.21 L505.15,353.20 L507.72,353.19 L510.30,353.17 L512.87,353.16 L515.44,353.14 L518.02,353.12 L520.59,353.09 L523.16,353.06 L525.74,353.02 L528.31,352.98 L530.88,352.93 L533.46,352.87 L536.03,352.80 L538.61,352.72 L541.18,352.63 L543.75,352.52 L546.33,352.40 L548.90,352.26 L551.48,352.10 L554.05,351.91 L556.62,351.70 L559.20,351.46 L561.77,351.19 L564.34,350.89 L566.92,350.54 L569.49,350.15 L572.06,349.72 L574.64,349.23 L577.21,348.69 L579.79,348.09 L582.36,347.43 L584.93,346.69 L587.51,345.88 L590.08,345.00 L592.65,344.02 L595.23,342.96 L597.80,341.81 L600.38,340.56 L602.95,339.21 L605.52,337.75 L608.10,336.19 L610.67,334.51 L613.25,332.72 L615.82,330.81 L618.39,328.79 L620.97,326.66 L623.54,324.40 L626.11,322.04 L628.69,319.57 L631.26,316.99 L633.84,314.31 L636.41,311.54 L638.98,308.68 L641.56,305.75 L644.13,302.75 L646.70,299.70 L649.28,296.60 L651.85,293.47 L654.42,290.32 L657.00,287.18 L659.57,284.05 L662.15,280.96 L664.72,277.91 L667.29,274.94 L669.87,272.05 L672.44,269.26 L675.01,266.59 L677.59,264.07 L680.16,261.69 L682.74,259.49 L685.31,257.48 L687.88,255.67 L690.46,254.07 L693.03,252.70 L695.61,251.56 L698.18,250.66 L700.75,250.02 L703.33,249.63 L705.90,249.50 L708.47,249.63 L711.05,250.02 L713.62,250.66 L716.20,251.56 L718.77,252.70 L721.34,254.07 L723.92,255.67 L726.49,257.48 L729.06,259.49 L731.64,261.69 L734.21,264.07 L736.79,266.59 L739.36,269.26 L741.93,272.05 L744.51,274.94 L747.08,277.91 L749.65,280.96 L752.23,284.05 L754.80,287.18 L757.38,290.32 L759.95,293.47 L762.52,296.60 L765.10,299.70 L767.67,302.75 L770.24,305.75 L772.82,308.68 L775.39,311.54 L777.97,314.31 L780.54,316.99 L783.11,319.57 L785.69,322.04 L788.26,324.40 L790.83,326.66 L793.41,328.79 L795.98,330.81 L798.55,332.72 L801.13,334.51 L803.70,336.19 L806.28,337.75 L808.85,339.21 L811.42,340.56 L814.00,341.81 L816.57,342.96 L819.14,344.02 L821.72,345.00 L824.29,345.88 L826.87,346.69 L829.44,347.43 L832.01,348.09 L834.59,348.69 L837.16,349.23 L839.74,349.72 L842.31,350.15 L844.88,350.54 L847.46,350.89 L850.03,351.19 L852.60,351.46 L855.18,351.70 L857.75,351.91 L860.32,352.10 L862.90,352.26 L865.47,352.40 L868.05,352.52 L870.62,352.63 L873.19,352.72 L875.77,352.80 L878.34,352.87 L880.91,352.93 L883.49,352.98 L886.06,353.02 L888.64,353.06 L891.21,353.09 L893.78,353.12 L896.36,353.14 L898.93,353.16 L901.50,353.17 L904.08,353.19 L906.65,353.20 L909.23,353.21 L911.80,353.22" fill="none" stroke="#C0504D" stroke-width="3.4" stroke-linecap="round" stroke-dasharray="0.5 8.30" stroke-dashoffset="4.00"/>
<path d="M88.20,353.25 L90.77,353.25 L93.35,353.25 L95.92,353.25 L98.50,353.25 L101.07,353.25 L103.64,353.25 L106.22,353.25 L108.79,353.25 L111.36,353.25 L113.94,353.25 L116.51,353.25 L119.09,353.25 L121.66,353.25 L124.23,353.25 L126.81,353.25 L129.38,353.25 L131.95,353.25 L134.53,353.25 L137.10,353.25 L139.68,353.25 L142.25,353.25 L144.82,353.25 L147.40,353.25 L149.97,353.25 L152.54,353.25 L155.12,353.25 L157.69,353.25 L160.26,353.25 L162.84,353.25 L165.41,353.25 L167.99,353.25 L170.56,353.25 L173.13,353.25 L175.71,353.25 L178.28,353.25 L180.85,353.25 L183.43,353.25 L186.00,353.25 L188.58,353.25 L191.15,353.25 L193.72,353.25 L196.30,353.25 L198.87,353.25 L201.44,353.25 L204.02,353.25 L206.59,353.25 L209.17,353.25 L211.74,353.25 L214.31,353.25 L216.89,353.25 L219.46,353.25 L222.03,353.25 L224.61,353.25 L227.18,353.25 L229.76,353.25 L232.33,353.25 L234.90,353.25 L237.48,353.25 L240.05,353.25 L242.62,353.25 L245.20,353.25 L247.77,353.25 L250.35,353.25 L252.92,353.25 L255.49,353.25 L258.07,353.25 L260.64,353.25 L263.21,353.25 L265.79,353.25 L268.36,353.25 L270.94,353.25 L273.51,353.25 L276.08,353.25 L278.66,353.25 L281.23,353.25 L283.81,353.25 L286.38,353.25 L288.95,353.25 L291.53,353.25 L294.10,353.25 L296.67,353.25 L299.25,353.25 L301.82,353.25 L304.39,353.25 L306.97,353.25 L309.54,353.25 L312.12,353.25 L314.69,353.25 L317.26,353.25 L319.84,353.25 L322.41,353.25 L324.99,353.25 L327.56,353.25 L330.13,353.25 L332.71,353.25 L335.28,353.25 L337.85,353.25 L340.43,353.25 L343.00,353.25 L345.57,353.25 L348.15,353.25 L350.72,353.25 L353.30,353.25 L355.87,353.25 L358.44,353.25 L361.02,353.25 L363.59,353.25 L366.16,353.25 L368.74,353.25 L371.31,353.25 L373.89,353.25 L376.46,353.25 L379.03,353.25 L381.61,353.25 L384.18,353.25 L386.75,353.25 L389.33,353.25 L391.90,353.25 L394.48,353.25 L397.05,353.25 L399.62,353.25 L402.20,353.25 L404.77,353.25 L407.34,353.25 L409.92,353.25 L412.49,353.25 L415.07,353.25 L417.64,353.25 L420.21,353.25 L422.79,353.25 L425.36,353.25 L427.94,353.25 L430.51,353.25 L433.08,353.25 L435.66,353.25 L438.23,353.25 L440.80,353.25 L443.38,353.25 L445.95,353.25 L448.52,353.25 L451.10,353.25 L453.67,353.25 L456.25,353.25 L458.82,353.25 L461.39,353.25 L463.97,353.25 L466.54,353.25 L469.11,353.25 L471.69,353.25 L474.26,353.25 L476.84,353.25 L479.41,353.25 L481.98,353.25 L484.56,353.25 L487.13,353.25 L489.70,353.25 L492.28,353.25 L494.85,353.25 L497.43,353.25 L500.00,353.25 L502.57,353.25 L505.15,353.25 L507.72,353.25 L510.30,353.25 L512.87,353.25 L515.44,353.25 L518.02,353.25 L520.59,353.25 L523.16,353.25 L525.74,353.25 L528.31,353.25 L530.88,353.25 L533.46,353.25 L536.03,353.24 L538.61,353.24 L541.18,353.24 L543.75,353.24 L546.33,353.24 L548.90,353.24 L551.48,353.23 L554.05,353.23 L556.62,353.22 L559.20,353.22 L561.77,353.21 L564.34,353.20 L566.92,353.19 L569.49,353.18 L572.06,353.17 L574.64,353.15 L577.21,353.14 L579.79,353.11 L582.36,353.09 L584.93,353.06 L587.51,353.03 L590.08,352.99 L592.65,352.94 L595.23,352.89 L597.80,352.83 L600.38,352.75 L602.95,352.67 L605.52,352.58 L608.10,352.48 L610.67,352.36 L613.25,352.22 L615.82,352.07 L618.39,351.89 L620.97,351.70 L623.54,351.48 L626.11,351.24 L628.69,350.97 L631.26,350.67 L633.84,350.34 L636.41,349.97 L638.98,349.57 L641.56,349.12 L644.13,348.64 L646.70,348.11 L649.28,347.53 L651.85,346.91 L654.42,346.23 L657.00,345.50 L659.57,344.72 L662.15,343.88 L664.72,342.98 L667.29,342.03 L669.87,341.02 L672.44,339.95 L675.01,338.83 L677.59,337.65 L680.16,336.41 L682.74,335.12 L685.31,333.78 L687.88,332.40 L690.46,330.97 L693.03,329.50 L695.61,328.00 L698.18,326.47 L700.75,324.92 L703.33,323.36 L705.90,321.79 L708.47,320.22 L711.05,318.65 L713.62,317.10 L716.20,315.58 L718.77,314.09 L721.34,312.65 L723.92,311.25 L726.49,309.92 L729.06,308.66 L731.64,307.47 L734.21,306.37 L736.79,305.36 L739.36,304.46 L741.93,303.66 L744.51,302.97 L747.08,302.40 L749.65,301.96 L752.23,301.64 L754.80,301.44 L757.38,301.38 L759.95,301.44 L762.52,301.64 L765.10,301.96 L767.67,302.40 L770.24,302.97 L772.82,303.66 L775.39,304.46 L777.97,305.36 L780.54,306.37 L783.11,307.47 L785.69,308.66 L788.26,309.92 L790.83,311.25 L793.41,312.65 L795.98,314.09 L798.55,315.58 L801.13,317.10 L803.70,318.65 L806.28,320.22 L808.85,321.79 L811.42,323.36 L814.00,324.92 L816.57,326.47 L819.14,328.00 L821.72,329.50 L824.29,330.97 L826.87,332.40 L829.44,333.78 L832.01,335.12 L834.59,336.41 L837.16,337.65 L839.74,338.83 L842.31,339.95 L844.88,341.02 L847.46,342.03 L850.03,342.98 L852.60,343.88 L855.18,344.72 L857.75,345.50 L860.32,346.23 L862.90,346.91 L865.47,347.53 L868.05,348.11 L870.62,348.64 L873.19,349.12 L875.77,349.57 L878.34,349.97 L880.91,350.34 L883.49,350.67 L886.06,350.97 L888.64,351.24 L891.21,351.48 L893.78,351.70 L896.36,351.89 L898.93,352.07 L901.50,352.22 L904.08,352.36 L906.65,352.48 L909.23,352.58 L911.80,352.67" fill="none" stroke="#C0504D" stroke-width="3.4" stroke-linecap="round" stroke-dasharray="0.5 8.30" stroke-dashoffset="2.25"/>
<rect x="761" y="72" width="55" height="15.5" fill="#4F81BD"/>
<text x="821" y="86" font-size="17.5" letter-spacing="0.9">Actual</text>
<line x1="761.2" y1="110.2" x2="814.9" y2="110.2" stroke="#77933C" stroke-width="4.6" stroke-linecap="round"/>
<text x="821" y="116.5" font-size="17.5" letter-spacing="0.75">Profile</text>
<rect x="0" y="0" width="949" height="1" fill="#878787"/><rect x="0" y="1" width="947" height="1" fill="#878787" fill-opacity="0.55"/>
<rect x="0" y="0" width="1" height="452" fill="#878787"/><rect x="1" y="1" width="1" height="449" fill="#878787" fill-opacity="0.55"/>
<rect x="947" y="0" width="2" height="452" fill="#878787"/><rect x="0" y="450" width="949" height="2" fill="#878787"/>
</svg></body></html>
